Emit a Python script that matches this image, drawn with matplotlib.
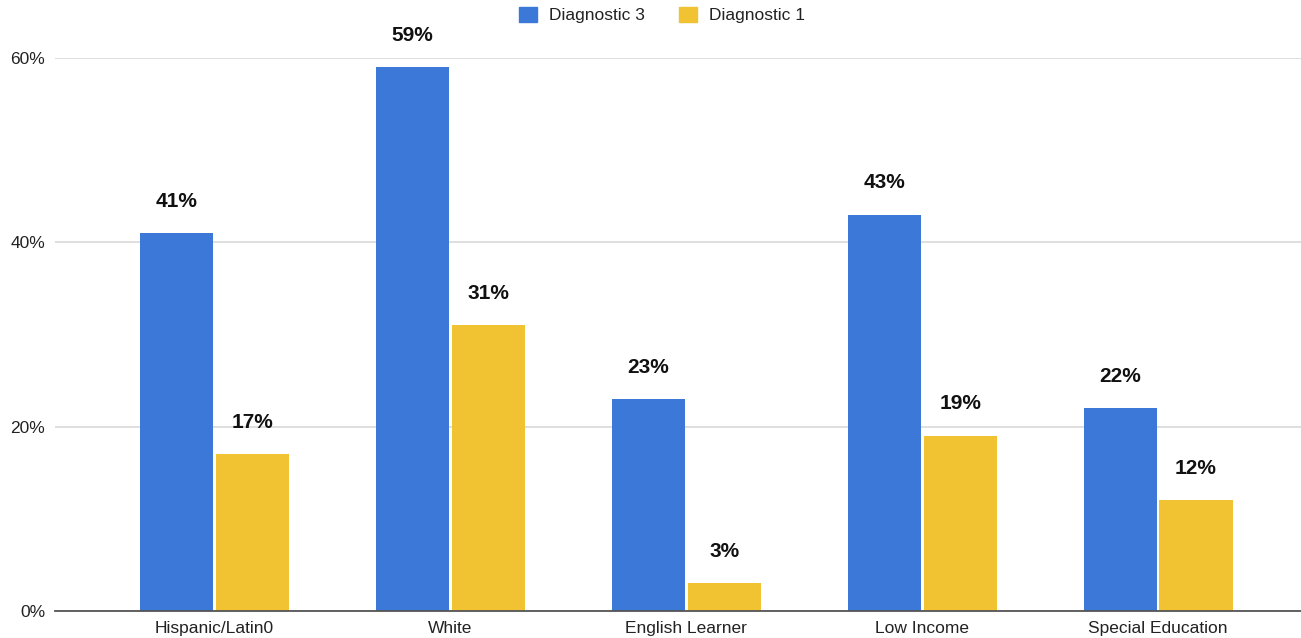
import matplotlib
matplotlib.use("Agg")
import matplotlib.pyplot as plt
import numpy as np
from matplotlib.patches import Patch

categories = ["Hispanic/Latin0", "White", "English Learner", "Low Income", "Special Education"]
diag3 = [41, 59, 23, 43, 22]
diag1 = [17, 31, 3, 19, 12]
series_names = ["Diagnostic 3", "Diagnostic 1"]
colors = ["#3c78d8", "#f1c232"]

plt.rcParams['font.family'] = ['Liberation Sans', 'DejaVu Sans']

fig = plt.figure(figsize=(13.01, 6.38), dpi=100)
W, H = 1301, 638
left, right = 55, 1301
bottom, top = 611, 58
ax = fig.add_axes([left / W, (H - bottom) / H, (right - left) / W, (bottom - top) / H])

x = np.arange(len(categories))
bw = 0.31
off = 0.161
for vals, c, o in [(diag3, colors[0], -off), (diag1, colors[1], off)]:
    bars = ax.bar(x + o, vals, width=bw, color=c, zorder=3)
    for b, v in zip(bars, vals):
        ax.annotate(f"{v}%", (b.get_x() + b.get_width() / 2, v), xytext=(0, 23),
                    textcoords="offset points", ha="center", va="center",
                    fontsize=15, fontweight="bold", color="#111111", clip_on=False)

ax.set_xlim(-0.676, 4.606)
ax.set_ylim(0, 60)
ax.set_yticks([0, 20, 40, 60])
ax.set_yticklabels(["0%", "20%", "40%", "60%"])
ax.set_xticks(x)
ax.set_xticklabels(categories)
ax.tick_params(axis="both", length=0, labelsize=12.5, colors="#222222")
ax.tick_params(axis="y", pad=7)
ax.tick_params(axis="x", pad=7)
ax.grid(axis="y", color="#d9d9d9", linewidth=1.2, zorder=0)
for s in ["top", "right", "left"]:
    ax.spines[s].set_visible(False)
ax.spines["bottom"].set_color("#555555")
ax.spines["bottom"].set_linewidth(1.3)
ax.spines["bottom"].set_zorder(4)

handles = [Patch(facecolor=c, edgecolor=c) for c in colors]
fig.legend(handles, series_names, loc="center", bbox_to_anchor=(662 / W, 1 - 15 / H),
           ncol=2, frameon=False, fontsize=12.5, handlelength=1.0, handleheight=1.0,
           columnspacing=2.0, handletextpad=0.7, labelcolor="#222222")

fig.savefig("out.png", dpi=100)
